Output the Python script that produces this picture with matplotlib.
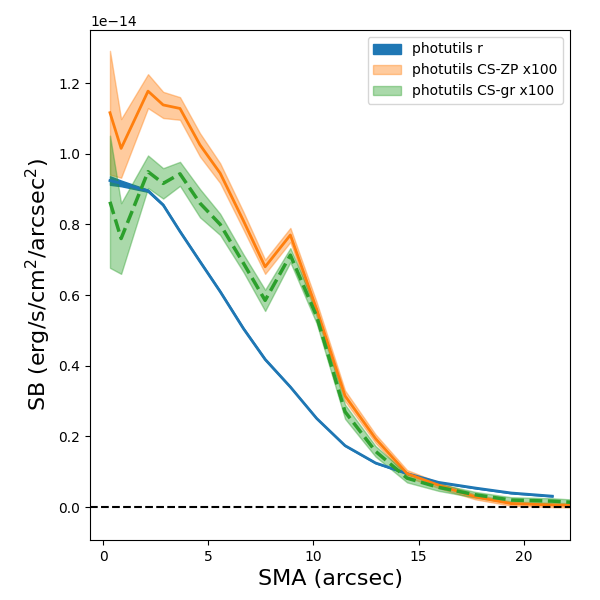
import matplotlib
matplotlib.use("Agg")
import matplotlib.pyplot as plt
import numpy as np

# SMA sampling (arcsec), shared by all profiles
sma = np.array([0.32, 0.85, 2.13, 2.85, 3.65, 4.6, 5.56, 6.67, 7.7, 8.9,
                10.15, 11.5, 12.95, 14.45, 15.95, 17.7, 19.4, 21.36, 23.3])

# surface brightness in units of 1e-14 erg/s/cm^2/arcsec^2
sb_r = np.array([0.924, 0.916, 0.895, 0.855, 0.78, 0.695, 0.61, 0.505, 0.418,
                 0.34, 0.251, 0.174, 0.125, 0.095, 0.07, 0.054, 0.04, 0.031])
sb_r_err = np.array([0.012, 0.008, 0.003, 0.002, 0.002, 0.002, 0.002, 0.002, 0.002,
                     0.001, 0.001, 0.001, 0.001, 0.001, 0.001, 0.001, 0.001, 0.001])

sb_zp = np.array([1.116, 1.015, 1.177, 1.138, 1.128, 1.025, 0.945, 0.81, 0.68,
                  0.77, 0.56, 0.315, 0.194, 0.095, 0.062, 0.029, 0.01, 0.006, 0.004])
sb_zp_err = np.array([0.175, 0.083, 0.048, 0.037, 0.032, 0.033, 0.028, 0.025, 0.02,
                      0.02, 0.02, 0.015, 0.012, 0.01, 0.008, 0.007, 0.006, 0.006, 0.006])

sb_gr = np.array([0.864, 0.76, 0.949, 0.916, 0.943, 0.86, 0.80, 0.69, 0.585,
                  0.713, 0.54, 0.27, 0.158, 0.082, 0.056, 0.035, 0.02, 0.017, 0.01])
sb_gr_err = np.array([0.187, 0.1, 0.046, 0.043, 0.034, 0.04, 0.03, 0.025, 0.03,
                      0.02, 0.02, 0.02, 0.015, 0.012, 0.01, 0.008, 0.008, 0.008, 0.008])

scale = 1e-14
n_r = len(sb_r)

fig = plt.figure(figsize=(6, 6), dpi=100)
ax = fig.add_axes([0.15, 0.10, 0.80, 0.85])

ax.fill_between(sma[:n_r], (sb_r - sb_r_err) * scale, (sb_r + sb_r_err) * scale,
                color="C0", alpha=1.0, label="photutils r")
ax.plot(sma[:n_r], sb_r * scale, color="C0", lw=2)

ax.fill_between(sma, (sb_zp - sb_zp_err) * scale, (sb_zp + sb_zp_err) * scale,
                color="C1", alpha=0.4, label="photutils CS-ZP x100")
ax.plot(sma, sb_zp * scale, color="C1", lw=2)

ax.fill_between(sma, (sb_gr - sb_gr_err) * scale, (sb_gr + sb_gr_err) * scale,
                color="C2", alpha=0.4, label="photutils CS-gr x100")
ax.plot(sma, sb_gr * scale, color="C2", lw=2.5, ls="--")

ax.axhline(0, color="k", ls="--", lw=1.5)

ax.set_xlim(-0.63, 22.2)
ax.set_ylim(-0.093e-14, 1.35e-14)
ax.set_xlabel("SMA (arcsec)", fontsize=16)
ax.set_ylabel("SB (erg/s/cm$^2$/arcsec$^2$)", fontsize=16)
ax.legend(loc="upper right", fontsize=10)

fig.savefig("out.png", dpi=100)
